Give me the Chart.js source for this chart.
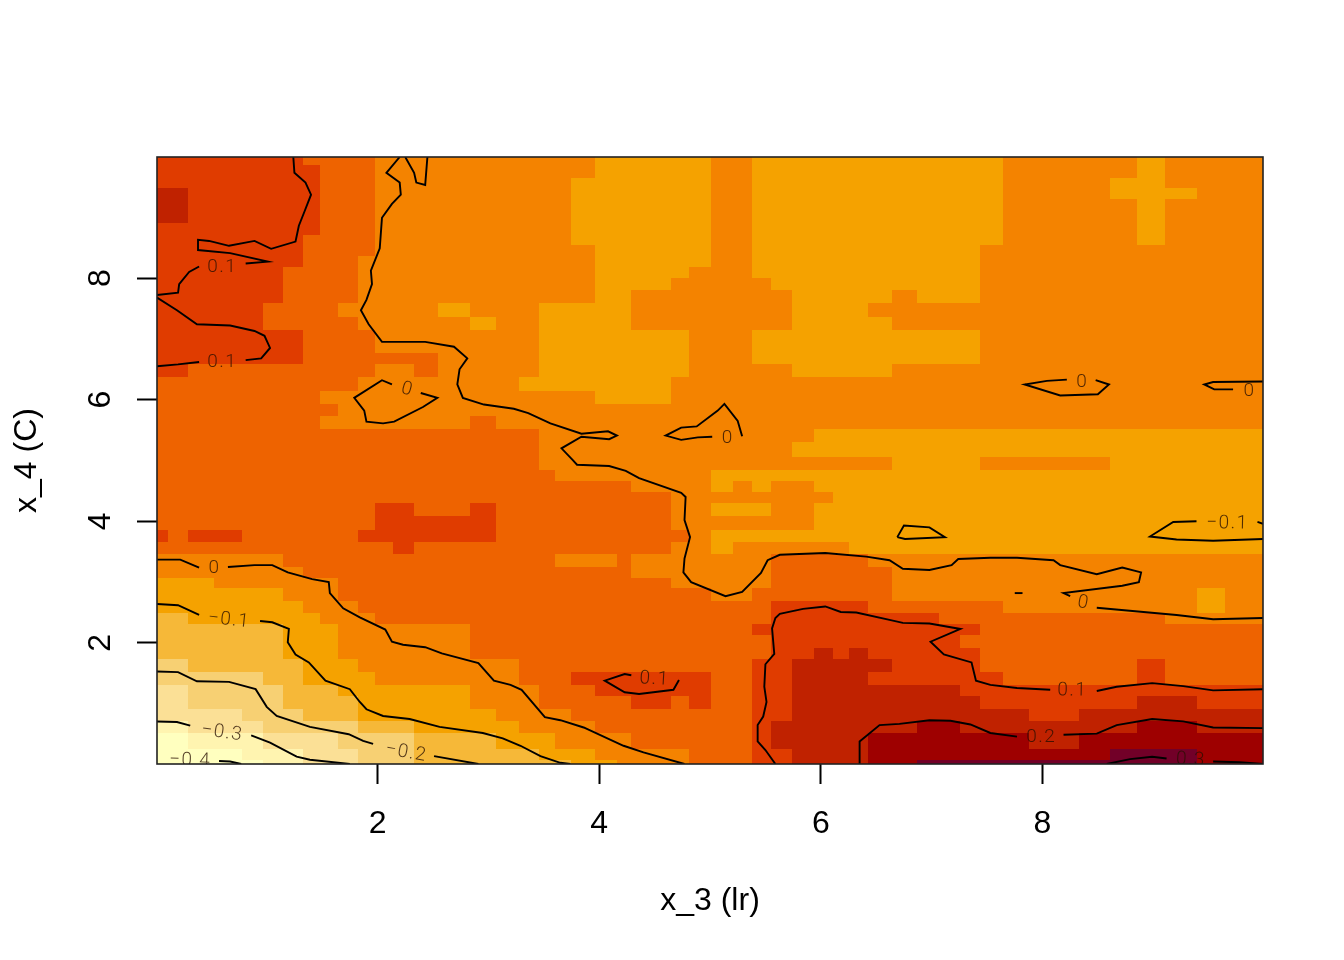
<!DOCTYPE html>
<html lang="en">
<head>
  <meta charset="UTF-8">
  <title>x_3 (lr) vs x_4 (C)</title>
  <script src="https://cdn.jsdelivr.net/npm/chart.js"></script>
  <style>
    html, body { margin: 0; padding: 0; background: #fff; }
    canvas { display: block; }
  </style>
</head>
<body>
<canvas id="heat" width="1344" height="960"></canvas>

<script>
  const xTicks = [2, 4, 6, 8];
  const yTicks = [2, 4, 6, 8];
  const xRange = [0.01, 9.99];
  const yRange = [0.01, 9.99];

  // colour for each value level, lowest first
  const levelColors = ['#FFFFBF', '#FFF4B0', '#FBE096', '#F7D073', '#F6B838', '#F5A200',
    '#F48300', '#EE6300', '#E03C00', '#C02200', '#9E0000', '#720028'];

  // row boundaries on x_4, top to bottom (the grid is not regular)
  const yEdges = [9.99, 9.86, 9.65, 9.48, 9.30, 8.90, 8.71, 8.54, 8.36, 8.18, 8.00, 7.80, 7.59,
    7.36, 7.15, 6.77, 6.59, 6.37, 6.14, 5.93, 5.73, 5.52, 5.30, 5.06, 4.84, 4.66, 4.48, 4.30,
    4.09, 3.86, 3.66, 3.46, 3.25, 3.07, 2.90, 2.69, 2.49, 2.31, 2.13, 1.92, 1.74, 1.52, 1.31,
    1.13, 0.91, 0.72, 0.52, 0.26, 0.08, 0.01];

  // each row: level, x_3 where that level ends, level, x_3 where it ends, ...
  const cellRows = [
    [8,1.33, 7,1.98, 6,3.96, 5,5.01, 6,5.38, 5,7.64, 6,8.85, 5,9.11, 6,9.99],
    [8,1.48, 7,1.98, 6,3.96, 5,5.01, 6,5.38, 5,7.64, 6,8.85, 5,9.11, 6,9.99],
    [8,1.48, 7,1.98, 6,3.75, 5,5.01, 6,5.38, 5,7.64, 6,8.61, 5,9.11, 6,9.99],
    [9,.29, 8,1.48, 7,1.98, 6,3.75, 5,5.01, 6,5.38, 5,7.64, 6,8.61, 5,9.39, 6,9.99],
    [9,.29, 8,1.48, 7,1.98, 6,3.75, 5,5.01, 6,5.38, 5,7.64, 6,8.85, 5,9.11, 6,9.99],
    [8,1.48, 7,1.98, 6,3.75, 5,5.01, 6,5.38, 5,7.64, 6,8.85, 5,9.11, 6,9.99],
    [8,1.33, 7,1.98, 6,3.75, 5,5.01, 6,5.38, 5,7.64, 6,8.85, 5,9.11, 6,9.99],
    [8,1.33, 7,1.98, 6,3.96, 5,5.01, 6,5.38, 5,7.44, 6,9.99],
    [8,1.33, 7,1.82, 6,3.96, 5,5.01, 6,5.38, 5,7.44, 6,9.99],
    [8,1.15, 7,1.82, 6,3.96, 5,4.81, 6,5.38, 5,7.44, 6,9.99],
    [8,1.15, 7,1.82, 6,3.96, 5,4.65, 6,5.55, 5,7.44, 6,9.99],
    [8,1.15, 7,1.82, 6,3.96, 5,4.29, 6,5.74, 5,6.64, 6,6.87, 5,7.44, 6,9.99],
    [8,.97, 7,1.64, 6,2.55, 5,2.83, 6,3.46, 5,4.29, 6,5.74, 5,6.43, 6,9.99],
    [8,.97, 7,1.82, 6,2.83, 5,3.07, 6,3.46, 5,4.29, 6,5.74, 5,6.64, 6,9.99],
    [8,1.33, 7,1.98, 6,3.46, 5,4.81, 6,5.38, 5,7.44, 6,9.99],
    [8,1.33, 7,2.55, 6,3.46, 5,4.81, 6,5.38, 5,7.44, 6,9.99],
    [8,.29, 7,1.98, 6,2.33, 7,2.55, 6,3.46, 5,4.81, 6,5.74, 5,6.64, 6,9.99],
    [7,1.82, 6,3.28, 5,4.65, 6,9.99],
    [7,1.48, 6,3.96, 5,4.65, 6,9.99],
    [7,1.64, 6,9.99],
    [7,1.48, 6,2.83, 7,3.07, 6,9.99],
    [7,3.46, 6,5.94, 5,9.99],
    [7,3.46, 6,5.74, 5,9.99],
    [7,3.46, 6,6.64, 5,7.44, 6,8.61, 5,9.99],
    [7,3.60, 6,5.01, 5,9.99],
    [7,4.29, 6,5.01, 5,5.21, 6,5.38, 5,5.55, 6,5.94, 5,9.99],
    [7,4.65, 6,6.11, 5,9.99],
    [7,1.98, 8,2.33, 7,2.83, 8,3.07, 7,4.65, 6,5.01, 5,5.55, 6,5.94, 5,9.99],
    [7,1.98, 8,3.07, 7,4.65, 6,5.94, 5,9.99],
    [8,.11, 7,.29, 8,.78, 7,1.82, 8,3.07, 7,4.81, 6,5.01, 5,9.99],
    [7,2.14, 8,2.33, 7,4.65, 6,5.01, 5,5.21, 6,6.25, 5,9.99],
    [6,1.15, 7,3.60, 6,4.16, 7,4.29, 6,5.55, 7,6.43, 6,9.99],
    [6,1.33, 7,4.29, 6,5.55, 7,6.64, 6,9.99],
    [5,.52, 6,1.64, 7,4.65, 6,5.55, 7,6.64, 6,9.99],
    [5,1.15, 6,1.64, 7,5.01, 6,5.38, 7,6.64, 6,9.39, 5,9.65, 6,9.99],
    [5,1.33, 6,1.82, 7,5.55, 8,6.43, 7,7.64, 6,9.39, 5,9.65, 6,9.99],
    [4,.29, 5,1.48, 6,1.98, 7,5.55, 8,7.07, 7,9.11, 6,9.99],
    [4,1.15, 5,1.64, 6,2.83, 7,5.38, 8,7.44, 7,9.99],
    [4,1.15, 5,1.64, 6,2.83, 7,5.55, 8,7.26, 7,9.99],
    [4,1.15, 5,1.64, 6,2.83, 7,5.55, 8,5.94, 9,6.11, 8,6.25, 9,6.43, 8,7.44, 7,9.99],
    [3,.29, 4,1.33, 5,1.82, 6,3.28, 7,5.38, 8,5.74, 9,6.64, 8,7.44, 7,8.85, 8,9.11, 7,9.99],
    [3,.97, 4,1.33, 5,1.98, 6,3.28, 7,3.75, 8,5.01, 7,5.38, 8,5.74, 9,6.43, 8,7.64, 7,8.85, 8,9.11, 7,9.99],
    [2,.29, 3,1.15, 4,1.64, 5,2.83, 6,3.46, 7,3.96, 8,5.01, 7,5.38, 8,5.74, 9,7.26, 8,9.99],
    [2,.29, 3,1.15, 4,1.82, 5,2.83, 6,3.46, 7,4.29, 8,4.65, 7,4.81, 8,5.01, 7,5.38, 8,5.74, 9,7.44, 8,8.85, 9,9.39, 8,9.99],
    [2,.78, 3,1.33, 4,1.82, 5,3.07, 6,3.75, 7,5.38, 8,5.74, 9,7.88, 8,8.33, 9,9.99],
    [1,.29, 2,.97, 3,1.82, 4,2.33, 5,3.28, 6,3.96, 7,5.38, 8,5.55, 9,6.87, 10,7.26, 9,8.85, 10,9.39, 9,9.99],
    [0,.29, 1,.97, 2,1.64, 3,2.33, 4,3.07, 5,3.60, 6,4.29, 7,5.38, 8,5.55, 9,6.43, 10,7.88, 9,8.33, 10,9.99],
    [0,.78, 1,1.33, 2,1.82, 3,2.33, 4,3.46, 5,3.96, 6,4.81, 7,5.38, 8,5.74, 9,6.43, 10,8.61, 11,9.39, 10,9.99],
    [0,.97, 1,1.33, 2,1.82, 3,2.33, 4,3.75, 5,4.16, 6,4.81, 7,5.38, 8,5.74, 9,6.43, 10,6.87, 11,9.39, 10,9.99]
  ];

  // contour pieces as [x_3, x_4] pairs; a piece stops where a label sits on the line
  const contour_p1a = [[1.24,9.99],[1.25,9.73],[1.35,9.57],[1.40,9.37],[1.34,9.09],[1.29,8.86],[1.26,8.60],[1.04,8.48],[.89,8.61],[.66,8.53],[.48,8.61],[.38,8.63],[.38,8.46],[.67,8.41],[1.01,8.27],[.81,8.24]];
  const contour_p1b = [[.39,8.19],[.30,8.10],[.21,7.90],[.20,7.76],[.01,7.72]];
  const contour_p1c = [[.01,7.68],[.19,7.47],[.37,7.24],[.67,7.22],[.89,7.13],[.98,7.05],[1.03,6.85],[.95,6.68],[.81,6.65]];
  const contour_p1d = [[.39,6.62],[.20,6.58],[.01,6.55]];
  const contour_p1e = [[4.29,1.47],[4.23,1.49],[4.05,1.38],[4.23,1.19],[4.36,1.16],[4.67,1.23],[4.72,1.39]];
  const contour_p1f = [[5.59,.01],[5.50,.24],[5.43,.38],[5.43,.65],[5.48,.79],[5.51,1.03],[5.49,1.28],[5.50,1.65],[5.58,1.82],[5.56,2.24],[5.59,2.41],[5.63,2.48],[5.84,2.56],[6.04,2.60],[6.18,2.51],[6.32,2.50],[6.62,2.38],[6.74,2.33],[6.98,2.32],[7.26,2.23],[6.99,2.02],[7.11,1.81],[7.36,1.68],[7.40,1.38],[7.53,1.31],[7.77,1.26],[8.07,1.23]];
  const contour_p1g = [[8.49,1.21],[8.67,1.28],[8.99,1.34],[9.27,1.29],[9.54,1.22],[9.99,1.24]];
  const contour_p2a = [[6.35,.01],[6.35,.38],[6.53,.65],[6.71,.67],[6.98,.73],[7.17,.72],[7.35,.66],[7.53,.52],[7.77,.46]];
  const contour_p2b = [[8.19,.49],[8.49,.51],[8.67,.65],[8.99,.75],[9.27,.71],[9.54,.61],[9.99,.60]];
  const contour_p3a = [[8.58,.01],[8.79,.09],[8.99,.13],[9.12,.10]];
  const contour_p3b = [[9.54,.05],[9.78,.04],[9.99,.01]];

  const contour_z1 = [[2.20,9.99],[2.08,9.73],[2.20,9.57],[2.21,9.37],[2.13,9.22],[2.04,8.99],[2.02,8.49],[1.94,8.12],[1.95,7.90],[1.90,7.64],[1.85,7.47],[1.92,7.24],[2.04,6.95],[2.43,6.95],[2.69,6.87],[2.81,6.68],[2.74,6.50],[2.72,6.25],[2.77,6.03],[2.96,5.92],[3.23,5.85],[3.36,5.78],[3.56,5.61],[3.84,5.44],[4.08,5.48],[4.16,5.41],[4.09,5.35],[3.84,5.39],[3.66,5.20],[3.76,5.01],[3.80,4.93],[4.09,4.91],[4.24,4.83],[4.36,4.71],[4.74,4.47],[4.78,4.40],[4.77,4.02],[4.82,3.74],[4.77,3.39],[4.76,3.16],[4.83,3.00],[5.14,2.77],[5.29,2.84],[5.46,3.15],[5.52,3.36],[5.63,3.45],[6.04,3.48],[6.41,3.42],[6.62,3.36],[6.74,3.22],[6.98,3.20],[7.18,3.28],[7.24,3.38],[7.53,3.40],[7.77,3.40],[8.10,3.36],[8.16,3.28],[8.49,3.13],[8.72,3.24],[8.89,3.16],[8.87,3.00],[8.72,2.94],[8.19,2.82],[8.25,2.77]];
  const contour_z2 = [[2.25,9.99],[2.33,9.73],[2.35,9.57],[2.43,9.53],[2.45,9.99]];
  const contour_z3 = [[7.75,2.82],[7.82,2.82]];
  const contour_z4 = [[8.49,2.58],[9.21,2.46],[9.54,2.39],[9.99,2.41]];
  const contour_z5 = [[2.13,6.25],[2.04,6.32],[1.79,6.03],[1.88,5.82],[1.90,5.64],[2.05,5.61],[2.15,5.64],[2.41,5.88],[2.54,6.03],[2.39,6.11]];
  const contour_z6 = [[5.02,5.39],[4.89,5.38],[4.74,5.34],[4.60,5.41],[4.74,5.54],[4.88,5.56],[5.07,5.82],[5.13,5.93],[5.25,5.65],[5.29,5.40]];
  const contour_z7 = [[8.22,6.33],[8.04,6.31],[7.84,6.25],[8.16,6.07],[8.50,6.09],[8.60,6.25],[8.48,6.32]];
  const contour_z8 = [[9.99,6.30],[9.54,6.29],[9.46,6.25],[9.55,6.17],[9.72,6.17]];
  const contour_z9 = [[.01,3.37],[.22,3.37],[.39,3.24]];
  const contour_z10 = [[.65,3.25],[.89,3.28],[1.05,3.28],[1.19,3.16],[1.41,3.05],[1.56,3.00],[1.57,2.82],[1.69,2.57],[1.84,2.42],[2.07,2.22],[2.13,2.02],[2.23,1.97],[2.43,1.93],[2.58,1.83],[2.91,1.67],[3.05,1.38],[3.20,1.31],[3.30,1.23],[3.51,.78],[3.65,.73],[3.86,.61],[4.22,.31],[4.40,.20],[4.77,.01]];

  const contour_n1a = [[.01,2.64],[.20,2.62],[.39,2.46]];
  const contour_n1b = [[.94,2.36],[1.05,2.34],[1.20,2.23],[1.19,2.01],[1.26,1.81],[1.38,1.68],[1.53,1.38],[1.75,1.24],[1.84,1.03],[1.90,.91],[2.05,.80],[2.29,.75],[2.56,.62],[2.95,.52],[3.13,.43],[3.29,.31],[3.47,.14],[3.65,.03],[3.74,.01]];
  const contour_n1c = [[6.69,3.74],[6.75,3.93],[6.98,3.90],[7.12,3.74],[6.76,3.71],[6.69,3.74]];
  const contour_n1d = [[9.39,4.00],[9.18,3.99],[8.97,3.75],[9.21,3.70],[9.54,3.68],[9.99,3.71]];
  const contour_n1e = [[9.94,3.99],[9.99,3.96]];
  const contour_n2a = [[.01,1.53],[.20,1.52],[.37,1.37],[.66,1.36],[.90,1.24],[1.00,.95],[1.09,.80],[1.39,.62],[1.74,.50],[1.87,.39],[1.96,.34]];
  const contour_n2b = [[2.51,.14],[2.91,.01]];
  const contour_n3a = [[.01,.71],[.19,.70],[.31,.64]];
  const contour_n3b = [[.86,.48],[1.03,.36],[1.27,.13],[1.39,.08],[1.75,.01]];
  const contour_n4 = [[.57,.06],[.67,.05],[.77,.01]];

  const contourPieces = [contour_p1a, contour_p1b, contour_p1c, contour_p1d, contour_p1e, contour_p1f, contour_p1g,
    contour_p2a, contour_p2b, contour_p3a, contour_p3b,
    contour_z1, contour_z2, contour_z3, contour_z4, contour_z5, contour_z6, contour_z7, contour_z8, contour_z9, contour_z10,
    contour_n1a, contour_n1b, contour_n1c, contour_n1d, contour_n1e, contour_n2a, contour_n2b, contour_n3a, contour_n3b, contour_n4];

  // contour labels: text, x_3, x_4, tilt in degrees
  const contourLabels = [
    ['0.1', .59, 8.19, 0], ['0.1', .59, 6.63, 0], ['0.1', 4.49, 1.42, 3], ['0.1', 8.26, 1.23, 1],
    ['0.2', 7.98, .47, 0], ['0.3', 9.33, .09, 3],
    ['0', 2.26, 6.18, 15], ['0', 5.15, 5.39, 0], ['0', 8.35, 6.31, 0], ['0', 9.86, 6.16, 0],
    ['0', 8.36, 2.67, 10], ['0', .52, 3.24, 0],
    ['\u22120.1', 9.66, 3.98, 1], ['\u22120.1', .65, 2.39, 6], ['\u22120.2', 2.25, .21, 10],
    ['\u22120.3', .59, .54, 8], ['\u22120.4', .30, .08, 2]
  ];

  const heatCells = {
    id: 'heatCells',
    beforeDatasetsDraw(chart) {
      const { ctx, scales: { x, y } } = chart;
      ctx.save();
      cellRows.forEach((row, r) => {
        const top = Math.round(y.getPixelForValue(yEdges[r]));
        const bottom = Math.round(y.getPixelForValue(yEdges[r + 1]));
        let start = xRange[0];
        for (let i = 0; i < row.length; i += 2) {
          const left = Math.round(x.getPixelForValue(start));
          const right = Math.round(x.getPixelForValue(row[i + 1]));
          ctx.fillStyle = levelColors[row[i]];
          ctx.fillRect(left, top, right - left, bottom - top);
          start = row[i + 1];
        }
      });
      ctx.restore();
    }
  };

  const labelsAndBox = {
    id: 'labelsAndBox',
    afterDatasetsDraw(chart) {
      const { ctx, chartArea: a, scales: { x, y } } = chart;
      ctx.save();
      ctx.beginPath();
      ctx.rect(a.left, a.top, a.right - a.left, a.bottom - a.top);
      ctx.clip();
      ctx.font = '300 19px Roboto, "Liberation Sans", sans-serif';
      ctx.letterSpacing = '1.4px';
      ctx.fillStyle = 'rgba(40,15,0,0.8)';
      ctx.textAlign = 'center';
      ctx.textBaseline = 'middle';
      contourLabels.forEach(([text, lx, ly, tilt]) => {
        ctx.save();
        ctx.translate(x.getPixelForValue(lx) + 1, y.getPixelForValue(ly) + 1);
        ctx.rotate(tilt * Math.PI / 180);
        ctx.fillText(text, 0, 0);
        ctx.restore();
      });
      ctx.restore();
      ctx.strokeStyle = '#222';
      ctx.lineWidth = 1.6;
      ctx.strokeRect(a.left, a.top, a.right - a.left, a.bottom - a.top);
    }
  };

  const axisFont = { family: '"Liberation Sans", Arial, sans-serif', size: 32 };

  new Chart(document.getElementById('heat').getContext('2d'), {
    type: 'scatter',
    data: {
      datasets: contourPieces.map(piece => ({
        data: piece.map(p => ({ x: p[0], y: p[1] })),
        showLine: true,
        pointRadius: 0,
        borderColor: '#000',
        borderWidth: 1.9,
        tension: 0
      }))
    },
    plugins: [heatCells, labelsAndBox],
    options: {
      responsive: false,
      animation: false,
      events: [],
      layout: { padding: { top: 157, right: 81 } },
      plugins: { legend: { display: false }, tooltip: { enabled: false }, title: { display: false } },
      scales: {
        x: {
          type: 'linear',
          min: xRange[0],
          max: xRange[1],
          afterBuildTicks: scale => { scale.ticks = xTicks.map(value => ({ value })); },
          afterFit: scale => { scale.height = 196; },
          border: { display: false },
          grid: { drawOnChartArea: false, tickLength: 20, tickColor: '#000', tickWidth: 2 },
          ticks: { font: axisFont, color: '#000', padding: 21, autoSkip: false, maxRotation: 0, callback: v => String(v) },
          title: { display: true, text: 'x_3 (lr)', font: axisFont, color: '#000', padding: { top: 0, bottom: 40 } }
        },
        y: {
          type: 'linear',
          min: yRange[0],
          max: yRange[1],
          afterBuildTicks: scale => { scale.ticks = yTicks.map(value => ({ value })); },
          afterFit: scale => { scale.width = 157; },
          border: { display: false },
          grid: { drawOnChartArea: false, tickLength: 20, tickColor: '#000', tickWidth: 2 },
          ticks: { font: axisFont, color: '#000', padding: 27, autoSkip: false, minRotation: 90, maxRotation: 90, crossAlign: 'center', callback: v => String(v) },
          title: { display: true, text: 'x_4 (C)', font: axisFont, color: '#000', padding: { top: 8, bottom: 0 } }
        }
      }
    }
  });
</script>
</body>
</html>
